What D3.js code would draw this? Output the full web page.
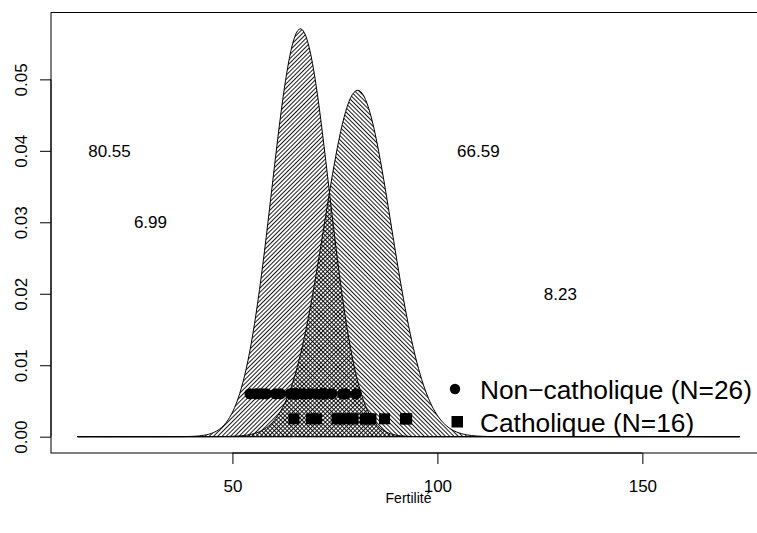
<!DOCTYPE html>
<html>
<head>
<meta charset="utf-8">
<script src="https://cdn.jsdelivr.net/npm/d3@7"></script>
<style>
  body { margin: 0; background: #fff; }
  svg { display: block; font-family: "Liberation Sans", Arial, Helvetica, sans-serif; }
</style>
</head>
<body>
<div class="chart"></div>
<script>
// Fertility values of the two groups (dots at the bottom)
const nonCatholique = [80.2, 76.9, 64.1, 66.9, 68.9, 61.7, 71.7, 55.7, 54.3, 65.1, 65.5, 65.0, 56.6,
                       57.4, 72.5, 74.2, 72.0, 60.5, 58.3, 65.4, 70.4, 65.7, 72.7, 64.4, 77.6, 67.6];
const catholique = [83.1, 92.5, 76.1, 83.8, 92.4, 82.4, 82.9, 87.1, 75.5, 69.3, 77.3, 70.5, 79.4,
                    65.0, 92.2, 79.3];

// normal curve parameters (group order: non-catholique, catholique)
const means = [66.59, 80.55];
const sds = [6.99, 8.23];
const xRange = [12.2, 173.7];     // extent of the density curves
const dotLevels = [0.006, 0.0025]; // height where the dots sit

// labels written on the plot: [x, y, text]
const notes = [[20, 0.04, "80.55"], [30, 0.03, "6.99"], [110, 0.04, "66.59"], [130, 0.02, "8.23"]];
const xTicks = [50, 100, 150];
const yTicks = [0, 0.01, 0.02, 0.03, 0.04, 0.05];
const legendLabels = ["Non\u2212catholique (N=26)", "Catholique (N=16)"];

const W = 757, H = 533;
const svg = d3.select(".chart").append("svg").attr("width", W).attr("height", H);

const pad = (xRange[1] - xRange[0]) * 0.04;
const x = d3.scaleLinear().domain([xRange[0] - pad, xRange[1] + pad]).range([51, 766]);
const dens = (v, m, s) => Math.exp(-0.5 * ((v - m) / s) ** 2) / (s * Math.sqrt(2 * Math.PI));
const yMax = d3.max(means, (m, i) => dens(m, m, sds[i]));
const y = d3.scaleLinear().domain([-0.04 * yMax, yMax * 1.04]).range([453, 12.5]);

// hatch patterns: a vertical line in a tile, turned by the angle
const defs = svg.append("defs");
[["hatchA", 45], ["hatchB", -45]].forEach(([id, ang]) => {
  defs.append("pattern").attr("id", id).attr("patternUnits", "userSpaceOnUse")
    .attr("width", 3).attr("height", 10).attr("patternTransform", `rotate(${ang})`)
    .append("line").attr("x1", 0.5).attr("x2", 0.5).attr("y1", 0).attr("y2", 10)
    .attr("stroke", "#000").attr("stroke-width", 0.9);
});

// density polygons
const grid = d3.range(0, 401).map(i => xRange[0] + (xRange[1] - xRange[0]) * i / 400);
const area = d3.area().x(d => x(d[0])).y0(y(0)).y1(d => y(d[1]));
means.forEach((m, i) => {
  const pts = grid.map(v => [v, dens(v, m, sds[i])]);
  svg.append("path").attr("d", area(pts))
    .attr("fill", i === 0 ? "url(#hatchA)" : "url(#hatchB)")
    .attr("stroke", "#000").attr("stroke-width", 1);
});

// dots
svg.append("g").selectAll("circle").data(nonCatholique).join("circle")
  .attr("cx", d => x(d)).attr("cy", y(dotLevels[0])).attr("r", 5.6).attr("fill", "#000");
svg.append("g").selectAll("rect").data(catholique).join("rect")
  .attr("x", d => x(d) - 5.5).attr("y", y(dotLevels[1]) - 5.5)
  .attr("width", 11).attr("height", 11).attr("fill", "#000");

// notes
svg.append("g").attr("font-size", 17).attr("text-anchor", "middle")
  .selectAll("text").data(notes).join("text")
  .attr("x", d => x(d[0])).attr("y", d => y(d[1])).attr("dy", "0.35em").text(d => d[2]);

// legend
const lg = svg.append("g");
lg.append("circle").attr("cx", 455).attr("cy", 389).attr("r", 5.2);
lg.append("rect").attr("x", 451.5).attr("y", 416).attr("width", 11.5).attr("height", 11.5);
lg.selectAll("text").data(legendLabels).join("text")
  .attr("x", 480).attr("y", (d, i) => 390 + i * 33).attr("dy", "0.36em")
  .attr("font-size", 26.3).text(d => d);

// box
svg.append("rect").attr("x", 51).attr("y", 12.5).attr("width", 715).attr("height", 440.5)
  .attr("fill", "none").attr("stroke", "#000").attr("stroke-width", 1);

// x axis
const gx = svg.append("g").attr("transform", `translate(0,${y.range()[0]})`)
  .call(d3.axisBottom(x).tickValues(xTicks).tickSize(11).tickPadding(16).tickFormat(d3.format("d")));
gx.select(".domain").remove();
gx.append("line").attr("x1", x(xTicks[0])).attr("x2", x(xTicks[xTicks.length - 1])).attr("stroke", "#000");
gx.selectAll("text").attr("font-size", 17).attr("fill", "#000").attr("font-family", null);
gx.attr("font-family", null);

// y axis
const gy = svg.append("g").attr("transform", `translate(${x.range()[0]},0)`)
  .call(d3.axisLeft(y).tickValues(yTicks).tickSize(11).tickFormat(d3.format(".2f")));
gy.select(".domain").remove();
gy.append("line").attr("y1", y(yTicks[0])).attr("y2", y(yTicks[yTicks.length - 1])).attr("stroke", "#000");
gy.attr("font-family", null);
gy.selectAll("text").attr("font-size", 17).attr("fill", "#000")
  .attr("x", 0).attr("y", -24.5).attr("dy", 0)
  .attr("transform", "rotate(-90)").attr("text-anchor", "middle");

// x title
svg.append("text").attr("x", (x.range()[0] + x.range()[1]) / 2).attr("y", 503)
  .attr("text-anchor", "middle").attr("font-size", 14).text("Fertilité");
</script>
</body>
</html>
